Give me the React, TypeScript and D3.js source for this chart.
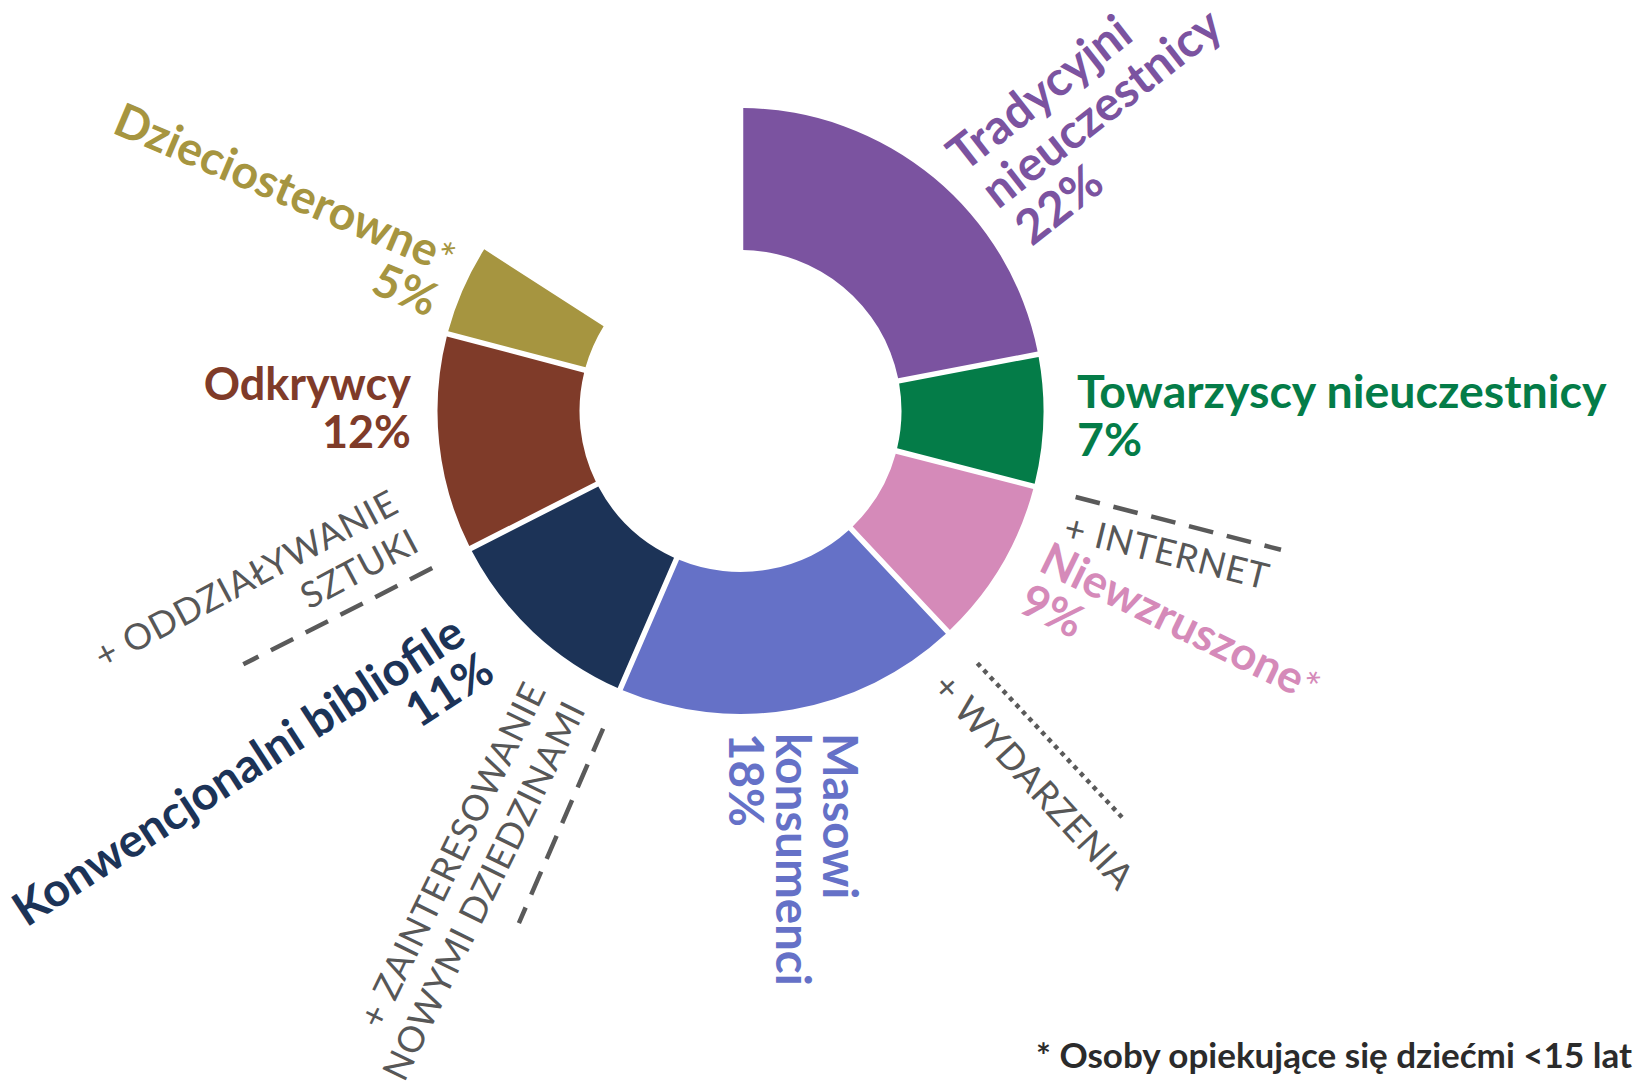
import React from "react";
import * as d3 from "d3";

// ---- data ----
const categories = [
  "Tradycyjni\nnieuczestnicy",
  "Towarzyscy nieuczestnicy",
  "Niewzruszone",
  "Masowi\nkonsumenci",
  "Konwencjonalni bibliofile",
  "Odkrywcy",
  "Dzieciosterowne",
];
const percents = [22, 7, 9, 18, 11, 12, 5];
// angular share of each segment (percent of full circle)
const arcShares = [22, 7, 9, 18.5, 11, 11.6, 5];
const caretakerFlags = [false, false, true, false, false, false, true];
const colors = ["#7b53a0", "#047c48", "#d58ab9", "#6571c7", "#1c3357", "#7f3b29", "#a69540"];

const annotationTexts = [
  "+ INTERNET",
  "+ WYDARZENIA",
  "+ ZAINTERESOWANIE\nNOWYMI DZIEDZINAMI",
  "+ ODDZIAŁYWANIE\nSZTUKI",
];
// boundary after which segment index the annotation line sits
const annotationAfter = [1, 2, 3, 4];
const annotationDotted = [false, true, false, false];
const footnote = "* Osoby opiekujące się dziećmi <15 lat";

// ---- layout ----
const W = 1633;
const H = 1088;
const cx = 740.5;
const cy = 411;
const rInner = 161;
const rOuter = 303;
const lineR0 = 346;
const lineR1 = 558;
const FONT = "Lato, 'Noto Sans', sans-serif";

const labelLayout = [
  { x: 964, y: 173, rot: -38, anchor: "start", lh: 50, size: 48, shift: 4 },
  { x: 1077, y: 408, rot: 0, anchor: "start", lh: 48, size: 46.5, shift: 0 },
  { x: 1037, y: 570, rot: 26, anchor: "start", lh: 46, size: 45.5, shift: 0 },
  { x: 823, y: 733, rot: 90, anchor: "start", lh: 47, size: 47.5, shift: 0 },
  { x: 468, y: 641, rot: -33, anchor: "end", lh: 47, size: 47, shift: 4 },
  { x: 411, y: 400, rot: 0, anchor: "end", lh: 48, size: 45, shift: 0 },
  { x: 447, y: 275, rot: 23, anchor: "end", lh: 46, size: 46.5, shift: 0 },
];

const annotationLayout = [
  { x: 1062, y: 539, rot: 14, anchor: "start" },
  { x: 931, y: 688, rot: 47.5, anchor: "start" },
  { x: 547, y: 690, rot: -64, anchor: "end" },
  { x: 401, y: 511, rot: -28, anchor: "end" },
];

export default function App() {
  const angle = d3.scaleLinear().domain([0, 100]).range([0, 2 * Math.PI]);
  const cum = d3.cumsum(arcShares);
  const segs = arcShares.map((v, i) => ({
    startAngle: angle(i === 0 ? 0 : cum[i - 1]),
    endAngle: angle(cum[i]),
    color: colors[i],
  }));
  const arc = d3
    .arc<any>()
    .innerRadius(rInner)
    .outerRadius(rOuter)
    .padRadius(300)
    .padAngle(5.5 / 300);

  const radialLine = d3
    .lineRadial<[number, number]>()
    .angle((p) => p[0])
    .radius((p) => p[1]);

  return (
    <svg
      width={W}
      height={H}
      style={{ position: "absolute", left: 0, top: 0, background: "#fff" }}
      fontFamily={FONT}
    >
      <g transform={`translate(${cx},${cy})`}>
        {segs.map((s, i) => (
          <path key={i} d={arc(s) as string} fill={s.color} />
        ))}
        {annotationAfter.map((k, i) => {
          const a = angle(cum[k]);
          const d = radialLine([
            [a, lineR0],
            [a, lineR1],
          ]);
          return (
            <path
              key={i}
              d={d as string}
              stroke="#5a5a5a"
              strokeWidth={4.5}
              strokeDasharray={annotationDotted[i] ? "4.5 4.9" : "25 14"}
              fill="none"
            />
          );
        })}
      </g>

      {categories.map((c, i) => {
        const L = labelLayout[i];
        const lines = c.split("\n");
        const all = [...lines, `${percents[i]}%`];
        return (
          <text
            key={i}
            transform={`translate(${L.x},${L.y}) rotate(${L.rot})`}
            fill={colors[i]}
            fontWeight={700}
            fontSize={L.size}
            textAnchor={L.anchor}
          >
            {all.map((t, j) => (
              <tspan key={j} x={j * L.shift} y={j * L.lh}>
                {t}
                {j === lines.length - 1 && caretakerFlags[i] ? (
                  <tspan fontSize={L.size * 0.9} fontWeight={400}>*</tspan>
                ) : null}
              </tspan>
            ))}
          </text>
        );
      })}

      {annotationTexts.map((t, i) => {
        const L = annotationLayout[i];
        return (
          <text
            key={i}
            transform={`translate(${L.x},${L.y}) rotate(${L.rot})`}
            fill="#575757"
            fontWeight={400}
            fontSize={36}
            letterSpacing={0.8}
            textAnchor={L.anchor}
          >
            {t.split("\n").map((s, j) => (
              <tspan key={j} x={0} y={j * 44}>
                {s}
              </tspan>
            ))}
          </text>
        );
      })}

      <text x={1036} y={1068} fill="#2b2b2b" fontWeight={700} fontSize={35}>
        {footnote}
      </text>
    </svg>
  );
}
